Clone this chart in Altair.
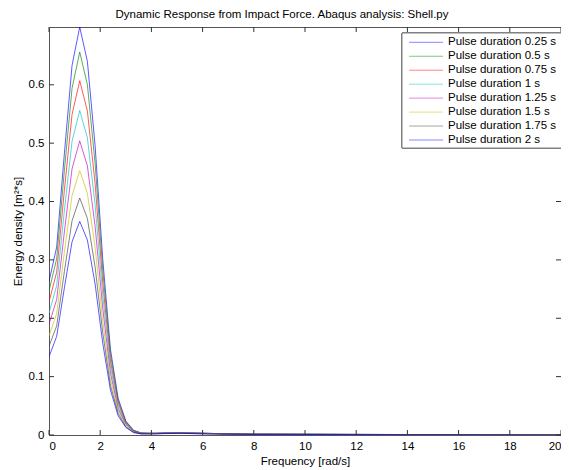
import altair as alt
import pandas as pd

freq = [0, 0.3, 0.6, 0.9, 1.2, 1.5, 1.8, 2.1, 2.4, 2.7, 3.0, 3.3, 3.6, 3.9, 4.2, 4.5,
        5.1, 6.0, 7.0, 8.0, 10, 12, 14, 16, 18, 20]

labels = ["Pulse duration 0.25 s", "Pulse duration 0.5 s", "Pulse duration 0.75 s",
          "Pulse duration 1 s", "Pulse duration 1.25 s", "Pulse duration 1.5 s",
          "Pulse duration 1.75 s", "Pulse duration 2 s"]

e025 = [0.263, 0.322, 0.482, 0.633, 0.699, 0.640, 0.496, 0.301, 0.147, 0.063, 0.024, 0.008, 0.0035,
        0.003, 0.003, 0.0035, 0.004, 0.003, 0.002, 0.0015, 0.0013, 0.001, 0.0008, 0.0006, 0.0003, 0.0]
e050 = [0.247, 0.302, 0.453, 0.594, 0.656, 0.600, 0.466, 0.282, 0.138, 0.059, 0.023, 0.008, 0.0035,
        0.003, 0.003, 0.0035, 0.004, 0.003, 0.002, 0.0015, 0.0013, 0.001, 0.0008, 0.0006, 0.0003, 0.0]
e075 = [0.228, 0.279, 0.419, 0.549, 0.607, 0.555, 0.431, 0.261, 0.127, 0.055, 0.021, 0.007, 0.003,
        0.003, 0.003, 0.0033, 0.0038, 0.003, 0.002, 0.0014, 0.0012, 0.001, 0.0008, 0.0006, 0.0003, 0.0]
e100 = [0.209, 0.256, 0.384, 0.503, 0.556, 0.509, 0.395, 0.239, 0.117, 0.050, 0.019, 0.007, 0.003,
        0.0028, 0.0028, 0.0032, 0.0036, 0.0028, 0.0019, 0.0014, 0.0012, 0.001, 0.0007, 0.0005, 0.0003, 0.0]
e125 = [0.190, 0.232, 0.348, 0.456, 0.504, 0.461, 0.358, 0.217, 0.106, 0.045, 0.018, 0.006, 0.0025,
        0.0025, 0.0026, 0.003, 0.0034, 0.0026, 0.0018, 0.0013, 0.0011, 0.0009, 0.0007, 0.0005, 0.0003, 0.0]
e150 = [0.170, 0.208, 0.313, 0.410, 0.453, 0.414, 0.322, 0.195, 0.095, 0.041, 0.016, 0.005, 0.002,
        0.0022, 0.0024, 0.0028, 0.0032, 0.0024, 0.0017, 0.0012, 0.001, 0.0008, 0.0006, 0.0005, 0.0002, 0.0]
e175 = [0.152, 0.187, 0.280, 0.367, 0.406, 0.371, 0.288, 0.175, 0.085, 0.037, 0.014, 0.005, 0.002,
        0.002, 0.0022, 0.0026, 0.003, 0.0022, 0.0016, 0.0011, 0.001, 0.0008, 0.0006, 0.0004, 0.0002, 0.0]
e200 = [0.134, 0.169, 0.252, 0.331, 0.366, 0.334, 0.259, 0.157, 0.077, 0.033, 0.013, 0.004, 0.002,
        0.0018, 0.002, 0.0024, 0.0028, 0.002, 0.0015, 0.001, 0.0009, 0.0007, 0.0005, 0.0004, 0.0002, 0.0]

series = [e025, e050, e075, e100, e125, e150, e175, e200]
colors = ["#0000ff", "#008000", "#ff0000", "#00bfbf", "#bf00bf", "#bfbf00", "#404040", "#0000ff"]

x_ticks = [0, 2, 4, 6, 8, 10, 12, 14, 16, 18, 20]
y_ticks = [0, 0.1, 0.2, 0.3, 0.4, 0.5, 0.6]

rows = []
for i, (lab, vals) in enumerate(zip(labels, series)):
    for f, v in zip(freq, vals):
        rows.append({"freq": f, "energy": v, "series": lab, "order": i})
df = pd.DataFrame(rows)
leg = pd.DataFrame({"series": labels})
xt = pd.DataFrame({"freq": x_ticks})
yt = pd.DataFrame({"v": y_ticks})

W, H = 512, 408
FONT = "Liberation Sans"
FS = 11.5
xdom = [0, 20]
ydom = [0, 0.699]
color = alt.Color("series:N", scale=alt.Scale(domain=labels, range=colors), legend=None)

xaxis = alt.Axis(values=x_ticks, title="Frequency [rad/s]", grid=False, ticks=False,
                 domain=False, labelPadding=5, titleY=26, titleBaseline="middle")
xenc = alt.X("freq:Q", scale=alt.Scale(domain=xdom, nice=False), axis=xaxis)

lines = alt.Chart(df).mark_line(strokeWidth=0.65, clip=True).encode(
    x=xenc,
    y=alt.Y("energy:Q", scale=alt.Scale(domain=ydom, nice=False),
            axis=alt.Axis(values=y_ticks, format="~g", title="Energy density [m²*s]", grid=False,
                          ticks=False, domain=False, labelPadding=5, titleX=-31, titleY=H / 2,
                          titleAlign="center", titleBaseline="middle")),
    color=color,
    order="order:Q",
    detail="series:N",
)

tick_style = dict(color="#333333", strokeWidth=1)
ys = alt.Y("v:Q", scale=alt.Scale(domain=ydom, nice=False), axis=None)
xb = alt.Chart(xt).mark_rule(**tick_style).encode(x=xenc, y=alt.value(H), y2=alt.value(H - 5))
xtop = alt.Chart(xt).mark_rule(**tick_style).encode(x=xenc, y=alt.value(0), y2=alt.value(5))
yl = alt.Chart(yt).mark_rule(**tick_style).encode(y=ys, x=alt.value(0), x2=alt.value(5))
yr = alt.Chart(yt).mark_rule(**tick_style).encode(y=ys, x=alt.value(W), x2=alt.value(W - 5))

box = alt.Chart(leg).mark_rect(fill="white", stroke="#808080", strokeWidth=1).encode(
    x=alt.value(353), x2=alt.value(W + 1), y=alt.value(6), y2=alt.value(121))
ly = alt.Y("series:N", sort=labels,
           scale=alt.Scale(type="point", domain=labels, range=[15.3, 113], padding=0), axis=None)
leg_lines = alt.Chart(leg).mark_rule(strokeWidth=0.8, opacity=0.6).encode(
    x=alt.value(360), x2=alt.value(394), y=ly, color=color)
leg_text = alt.Chart(leg).mark_text(align="left", baseline="middle", fontSize=FS, font=FONT,
                                    color="black").encode(
    x=alt.value(399), y=ly, text="series:N")

chart = alt.layer(lines, xb, xtop, yl, yr, box, leg_lines, leg_text).resolve_scale(
    y="independent"
).properties(
    width=W, height=H,
    autosize=alt.AutoSizeParams(type="none"),
    padding={"left": 41, "top": 19, "right": 0, "bottom": 35},
    title=alt.TitleParams("Dynamic Response from Impact Force. Abaqus analysis: Shell.py",
                          fontSize=FS, fontWeight="normal", font=FONT, color="black",
                          anchor="middle", dx=-23, offset=6),
).configure_view(stroke="#555555", strokeWidth=1).configure_axis(
    labelFont=FONT, titleFont=FONT, labelFontSize=FS, titleFontSize=FS,
    labelColor="black", titleColor="black", titleFontWeight="normal"
)

chart.save("out.html", embed_options={"renderer": "svg", "actions": False})
